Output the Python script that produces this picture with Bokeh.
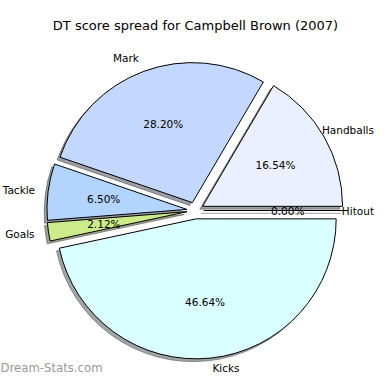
import numpy as np
from bokeh.plotting import figure
from bokeh.models import Range1d, ColumnDataSource, Label
from bokeh.core.properties import value
from bokeh.embed import file_html
from bokeh.resources import INLINE

# ---- data ----
title = "DT score spread for Campbell Brown (2007)"
categories = ["Handballs", "Mark", "Tackle", "Goals", "Kicks", "Hitout"]
percentages = [16.54, 28.20, 6.50, 2.12, 46.64, 0.00]
colors = ["#eaf0ff", "#c4d8ff", "#b2d4ff", "#ccec8c", "#d9ffff", "#e0e0ff"]
watermark = "Dream-Stats.com"

# ---- layout (reference pixel frame) ----
PX = 140.0             # pixels per unit radius
CX, CY = 194.8, 210.0  # pie centre (picture pixels)
W = H = 374
EXPLODE = 0.06
SHADOW = 0.02
FS = 10.5

# approximate DejaVu Sans advance widths (em) for fitting labels in frame
CW = {"H": .752, "a": .613, "n": .634, "d": .635, "b": .635, "l": .278,
      "s": .521, "M": .863, "r": .411, "k": .579, "T": .611, "c": .550,
      "e": .615, "G": .775, "o": .612, "K": .656, "i": .278, "t": .392,
      "u": .634}


def twidth(s, fs):
    return sum(CW.get(ch, 0.6) for ch in s) * fs


def px2x(px):
    return (px - CX) / PX


def py2y(py):
    return (CY - py) / PX


p = figure(width=W, height=H, output_backend="svg", toolbar_location=None,
           x_range=Range1d(px2x(0), px2x(W)),
           y_range=Range1d(py2y(H), py2y(0)),
           x_axis_location=None, y_axis_location=None,
           min_border=0, outline_line_color=None)
p.grid.visible = False
p.background_fill_color = "white"

vals = np.array(percentages, dtype=float)
frac = vals / vals.sum()
ends = 2 * np.pi * np.cumsum(frac)
starts = np.concatenate([[0.0], ends[:-1]])
mids = (starts + ends) / 2
cx = EXPLODE * np.cos(mids)
cy = EXPLODE * np.sin(mids)


def shade(hexc):
    h = hexc.lstrip("#")
    r, g, b = (int(h[i:i + 2], 16) for i in (0, 2, 4))
    return "#%02x%02x%02x" % (int(0.3 * r), int(0.3 * g), int(0.3 * b))


shadow_cols = [shade(c) for c in colors]
nz = frac > 0
zero = ~nz

src = ColumnDataSource(dict(
    x=cx[nz], y=cy[nz], sx=cx[nz] - SHADOW, sy=cy[nz] - SHADOW,
    start=starts[nz], end=ends[nz],
    color=[c for c, k in zip(colors, nz) if k],
    scol=[c for c, k in zip(shadow_cols, nz) if k]))

zx0, zy0 = cx[zero], cy[zero]
zx1, zy1 = cx[zero] + np.cos(starts[zero]), cy[zero] + np.sin(starts[zero])
zscol = [c for c, k in zip(shadow_cols, zero) if k]

# shadows
p.wedge(x="sx", y="sy", radius=1.0, start_angle="start", end_angle="end",
        fill_color="scol", fill_alpha=0.5, line_color="scol", line_alpha=0.5,
        line_width=1, source=src)
p.segment(x0=zx0 - SHADOW, y0=zy0 - SHADOW, x1=zx1 - SHADOW, y1=zy1 - SHADOW,
          line_color=zscol, line_alpha=0.5, line_width=1)

# wedges
p.wedge(x="x", y="y", radius=1.0, start_angle="start", end_angle="end",
        fill_color="color", line_color="black", line_width=1, source=src)
p.segment(x0=zx0, y0=zy0, x1=zx1, y1=zy1, line_color="black", line_width=1)

# category labels (kept inside the frame)
lx = cx + 1.1 * np.cos(mids)
ly = cy + 1.1 * np.sin(mids)
align = ["left" if v > 0 else "right" for v in lx]
xoff, yoff = [], []
xmin, xmax = px2x(0.5), px2x(W - 0.5)
ymin = py2y(H - 0.6 * FS)
for name, x, y, a in zip(categories, lx, ly, align):
    wdt = twidth(name, FS) / PX
    dx = 0.0
    if a == "left" and x + wdt > xmax:
        dx = (xmax - (x + wdt)) * PX
    if a == "right" and x - wdt < xmin:
        dx = (xmin - (x - wdt)) * PX
    dy = 0.0
    if y < ymin:
        dy = (y - ymin) * PX   # screen offset: positive is downward
    xoff.append(dx)
    yoff.append(dy)
p.text(x=lx, y=ly, text=categories, text_align=align, text_baseline="middle",
       x_offset=xoff, y_offset=yoff, text_font=value("DejaVu Sans"),
       text_font_size=f"{FS}px", text_color="black")

# percentage labels
qx = cx + 0.6 * np.cos(mids)
qy = cy + 0.6 * np.sin(mids)
p.text(x=qx, y=qy, text=[f"{v:.2f}%" for v in vals], text_align="center",
       text_baseline="middle", text_font=value("DejaVu Sans"),
       text_font_size=f"{FS}px", text_color="black")

# title
p.text(x=[px2x(195)], y=[py2y(25)], text=[title], text_align="center",
       text_baseline="middle", text_font=value("DejaVu Sans"),
       text_font_size="13px", text_color="black")

# watermark
p.add_layout(Label(x=0, y=0, x_units="screen", y_units="screen",
                   text=watermark, text_font="DejaVu Sans",
                   text_font_size="11.7px", text_color="#999999",
                   text_align="left", text_baseline="bottom"))

open("out.html", "w").write(file_html(p, INLINE))
